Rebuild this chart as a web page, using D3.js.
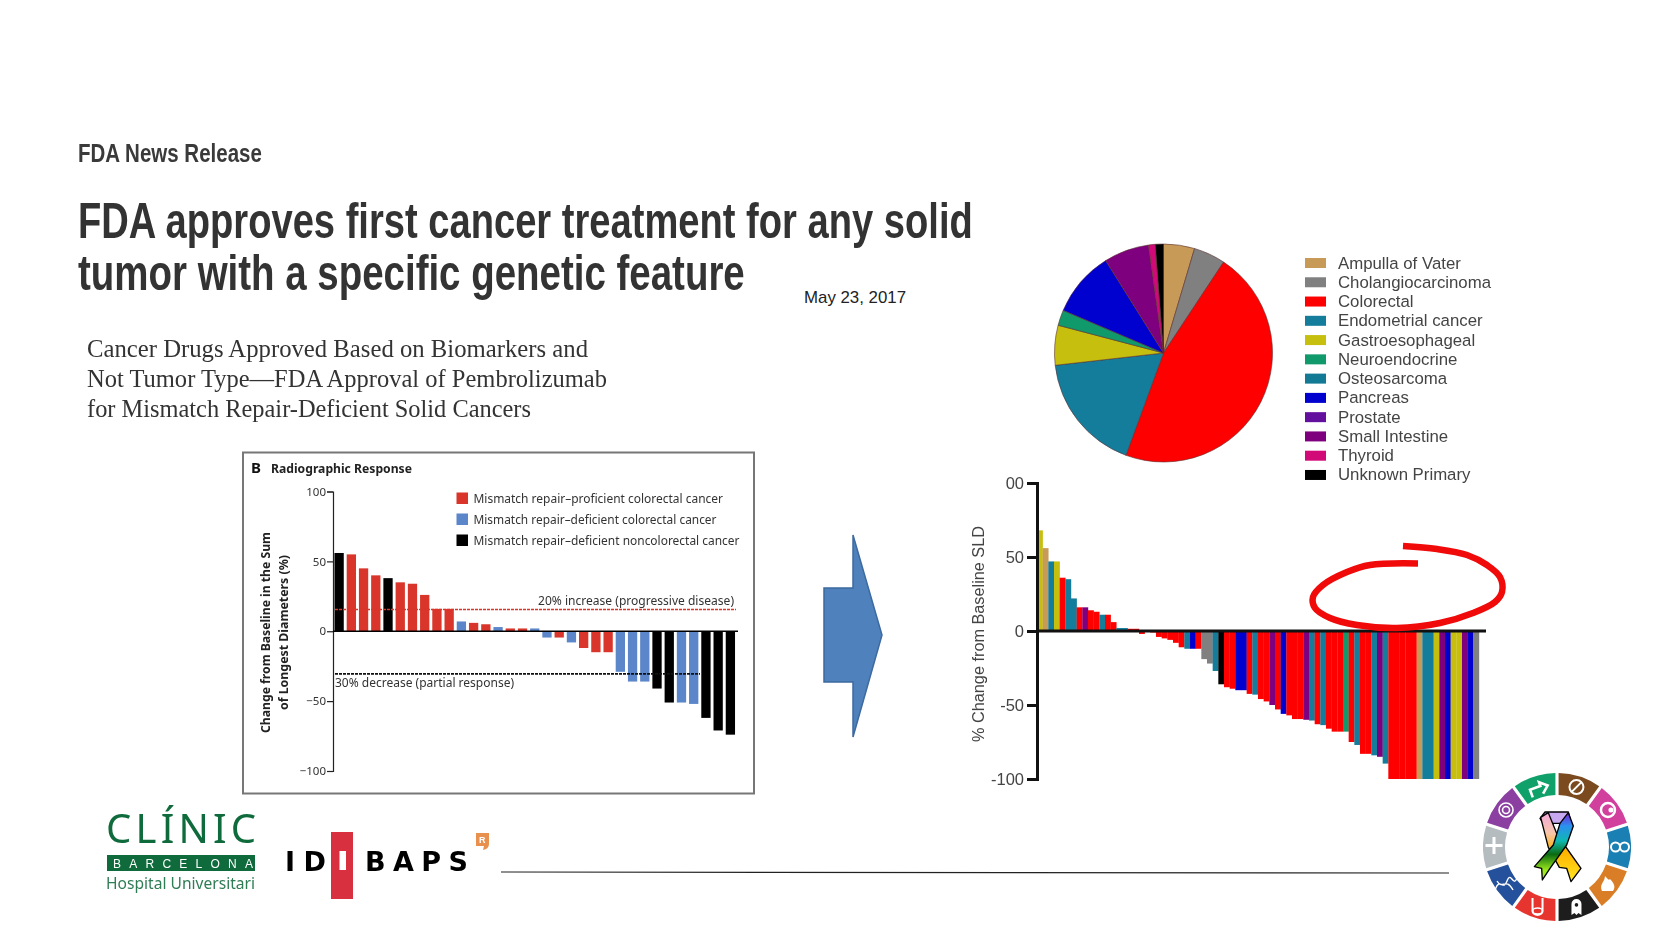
<!DOCTYPE html>
<html><head><meta charset="utf-8">
<script src="https://cdn.jsdelivr.net/npm/d3@7"></script>
<style>html,body{margin:0;padding:0;background:#fff}svg{display:block}text{font-family:"Liberation Sans",Arial,sans-serif}svg>*:not(.sharp):not(defs){filter:blur(.4px)}</style>
</head><body><svg id="c" width="1680" height="945"></svg>
<script>
// ---- data ----
const nejmValues=[56,55,45,40,38,35,34,26,16,16,7,6,5,3,2,2,2,-4.5,-4.5,-8,-12,-15,-15,-29,-36,-36,-41,-51,-51,-52,-62,-71,-74];
const nejmTypes="kpppkpppppbppbppbbpbpppbbbkkbbkkk".split("");
const nejmLegend=["Mismatch repair\u2013proficient colorectal cancer","Mismatch repair\u2013deficient colorectal cancer","Mismatch repair\u2013deficient noncolorectal cancer"];
const nejmTicks=[100,50,0,-50,-100];
const progressiveLine=15.5, partialLine=-30.5;
const pieNames=["Ampulla of Vater","Cholangiocarcinoma","Colorectal","Endometrial cancer","Gastroesophageal","Neuroendocrine","Osteosarcoma","Pancreas","Prostate","Small Intestine","Thyroid","Unknown Primary"];
const pieValues=[4.6,4.7,46.3,17.6,5.9,2.3,0,9.7,0,6.7,1.0,1.2];
const pieColors=["#c89a58","#808080","#ff0000","#137d9b","#c6bf0e","#10996a","#137a96","#0000cf","#64109f","#7f007f","#d20a78","#000000"];
const sldValues=[68,56,47,47,36,35,22,16,16,14,13,11,11,6,2,2,1.5,1.5,-2,-0.5,-1,-4,-5,-6,-8,-11,-12,-12,-12,-19,-22,-27,-36,-38,-39,-40,-40,-42.5,-43,-46,-47.6,-50,-53,-56,-57,-59.5,-59.5,-60,-60.5,-63,-63.6,-66,-68,-68,-68,-75,-77,-83,-83,-84,-85,-89.6,-100,-100,-100,-100,-100,-100,-100,-100,-100,-100,-100,-100,-100,-100,-100,-100];
const sldTypes=[4,0,3,4,2,3,3,2,9,2,2,3,2,2,3,3,2,2,2,2,2,2,2,2,2,2,3,7,2,1,1,3,11,2,2,7,7,2,3,2,2,9,2,7,2,2,2,9,3,2,3,2,2,2,5,2,3,2,2,3,9,3,2,2,2,2,2,0,3,3,4,9,7,4,4,9,7,1];
const sldTicks=[100,50,0,-50,-100];
const sldTickLabels={"100":"00","50":"50","0":"0","-50":"-50","-100":"-100"};
const ringColors=["#7b4a1e","#d1409c","#1a7fb2","#d97e26","#1d1d1d","#e6352f","#24509c","#b5bcc0","#8a3fa1","#10a069"];
const ringShare=ringColors.map(()=>1);

const svg=d3.select("#c");
const txt=(s,x,y,size,o={})=>{const t=svg.append("text").attr("x",x).attr("y",y).attr("font-size",size).attr("fill",o.fill||"#333").text(s);
 if(o.family)t.style("font-family",o.family);if(o.bold)t.attr("font-weight",o.bold===true?"bold":o.bold);if(o.w)t.attr("textLength",o.w).attr("lengthAdjust",o.adj||"spacingAndGlyphs");if(o.anchor)t.attr("text-anchor",o.anchor);if(o.rot)t.attr("transform",`rotate(-90 ${x} ${y})`);
 if(o.fit){const n=t.node().getComputedTextLength();t.attr("x",0).attr("y",0).attr("transform",`translate(${x},${y}) scale(${o.fit/n},1)`);}
 return t;};

// ---- headings ----
txt("FDA News Release",78,161.5,25,{bold:true,fit:184,fill:"#3a3a3a"});
txt("FDA approves first cancer treatment for any solid",78,237.5,50,{bold:true,fit:895,fill:"#333"});
txt("tumor with a specific genetic feature",78,290,50,{bold:true,fit:667,fill:"#333"});
txt("May 23, 2017",804,303,17,{w:102,fill:"#222"}).classed("sharp",true);
const serif='"Liberation Serif",serif';
txt("Cancer Drugs Approved Based on Biomarkers and",87,357,26,{family:serif,w:501,fill:"#333"});
txt("Not Tumor Type\u2014FDA Approval of Pembrolizumab",87,387,26,{family:serif,w:520,fill:"#333"});
txt("for Mismatch Repair-Deficient Solid Cancers",87,417,26,{family:serif,w:444,fill:"#333"});

// ---- NEJM panel ----
svg.append("rect").attr("x",243).attr("y",452.5).attr("width",511).attr("height",341).attr("fill","#fff").attr("stroke","#777").attr("stroke-width",2);
const sans='"Noto Sans",sans-serif';
txt("B",251,473,15,{family:sans,bold:true,fill:"#111"});
txt("Radiographic Response",271,473,13,{family:sans,bold:true,w:141,fill:"#222"});
const nx=d3.scaleBand().domain(d3.range(nejmValues.length)).range([333,736.5]).paddingInner(.24).paddingOuter(.12);
const ny=d3.scaleLinear().domain([-100,100]).range([771,491.5]);
const nColor={p:"#d9352a",b:"#5b86c9",k:"#000"};
svg.append("g").selectAll("rect").data(nejmValues).join("rect")
 .attr("x",(d,i)=>nx(i)).attr("width",nx.bandwidth()).attr("y",d=>Math.min(ny(d),ny(0))).attr("height",d=>Math.abs(ny(d)-ny(0)))
 .attr("fill",(d,i)=>nColor[nejmTypes[i]]);
const nAxis=svg.append("g").attr("transform","translate(333,0)").call(d3.axisLeft(ny).tickValues(nejmTicks).tickSize(6).tickFormat(d=>d<0?"\u2212"+(-d):d));
nAxis.selectAll("text").style("font-family",sans).attr("font-size",11.5).attr("fill","#333").attr("x",-7);
nAxis.selectAll("line,path").attr("stroke","#222").attr("stroke-width",1.2);
svg.append("line").attr("x1",333).attr("x2",738).attr("y1",ny(0)).attr("y2",ny(0)).attr("stroke","#000").attr("stroke-width",1.5);
svg.append("line").attr("x1",335).attr("x2",736).attr("y1",ny(progressiveLine)).attr("y2",ny(progressiveLine)).attr("stroke","#d9352a").attr("stroke-width",1.5).attr("stroke-dasharray","3 1");
svg.append("line").attr("x1",335).attr("x2",700).attr("y1",ny(partialLine)).attr("y2",ny(partialLine)).attr("stroke","#111").attr("stroke-width",1.6).attr("stroke-dasharray","3 1");
txt("20% increase (progressive disease)",538,605,12,{family:sans,w:196,fill:"#333"});
txt("30% decrease (partial response)",335,687,12,{family:sans,w:179,fill:"#333"});
nejmLegend.forEach((s,i)=>{const y=[498.5,519.5,540.5][i];
 svg.append("rect").attr("x",456.5).attr("y",y-6).attr("width",11.5).attr("height",11.5).attr("fill",[nColor.p,nColor.b,nColor.k][i]);
 txt(s,473.5,y+4,12,{family:sans,w:[249.5,243,266][i],fill:"#333"});});
txt("Change from Baseline in the Sum",270,733,12.5,{family:sans,bold:true,w:201,fill:"#222",rot:true});
txt("of Longest Diameters (%)",288,710,12.5,{family:sans,bold:true,w:155,fill:"#222",rot:true});

// ---- arrow ----
const arrowPts=[[824,588],[853,588],[853,535],[882,635],[853,737],[853,682],[824,682]];
svg.append("polygon").attr("points",arrowPts.join(" ")).attr("fill","#4f81bd").attr("stroke","#3d6a9f").attr("stroke-width",1.5);

// ---- pie ----
const pie=d3.pie().sort(null).value(d=>d)(pieValues);
const arc=d3.arc().innerRadius(0).outerRadius(109);
svg.append("g").attr("transform","translate(1163.5,353)").selectAll("path").data(pie).join("path")
 .attr("d",arc).attr("fill",(d,i)=>pieColors[i]).attr("stroke",d=>d.value?"#5a3030":"none").attr("stroke-width",.6);
pieNames.forEach((s,i)=>{const y=263+19.27*i;
 svg.append("rect").attr("x",1305).attr("y",y-5).attr("width",21).attr("height",10).attr("fill",pieColors[i]);
 txt(s,1338,y+5.5,16.8,{fill:"#444"});});

// ---- SLD waterfall ----
const sx=d3.scaleBand().domain(d3.range(sldValues.length)).range([1037,1479]);
const sy=d3.scaleLinear().domain([-100,100]).range([779,483]);
svg.append("g").selectAll("rect").data(sldValues).join("rect")
 .attr("x",(d,i)=>sx(i)).attr("width",sx.bandwidth()+.2).attr("y",d=>Math.min(sy(d),sy(0))).attr("height",d=>Math.abs(sy(d)-sy(0)))
 .attr("fill",(d,i)=>pieColors[sldTypes[i]]);
const sAxis=svg.append("g").attr("transform","translate(1037,0)").call(d3.axisLeft(sy).tickValues(sldTicks).tickSize(10).tickPadding(3).tickFormat(d=>sldTickLabels[d]));
sAxis.selectAll("text").attr("font-size",16.5).attr("fill","#444");
sAxis.selectAll("line,path").attr("stroke","#111").attr("stroke-width",3);
svg.append("line").attr("x1",1037).attr("x2",1486).attr("y1",sy(0)).attr("y2",sy(0)).attr("stroke","#111").attr("stroke-width",3);
txt("% Change from Baseline SLD",984,742,16,{w:216,fill:"#444",rot:true});

// ---- red hand-drawn ellipse ----
const stroke=[[1403,546],[1437,549],[1467,555],[1487,565],[1500,577],[1502,592],[1495,602],[1473,613],[1440,623],[1397,628],[1357,625],[1330,618],[1315,608],[1313,597],[1323,585],[1347,572],[1370,565],[1418,563.5]];
svg.append("path").attr("d",d3.line().curve(d3.curveCatmullRom)(stroke)).attr("fill","none").attr("stroke","#f00a0a").attr("stroke-width",6.5);

// ---- footer rule ----
svg.append("line").classed("sharp",true).attr("x1",501).attr("x2",1449).attr("y1",872).attr("y2",873).attr("stroke","#222").attr("stroke-width",1.2);

// ---- Clinic logo ----
const green="#0f6b3c";
txt("CL\u00cdNIC",106,843,40,{family:sans,fill:green,w:150,adj:"spacing"});
svg.append("rect").attr("x",107).attr("y",855).attr("width",148).attr("height",16).attr("fill",green);
txt("BARCELONA",113,868,12,{fill:"#fff",w:140,adj:"spacing"});
txt("Hospital Universitari",106,889,16.5,{family:sans,fill:"#2f7d55",w:149});

// ---- IDIBAPS logo ----
const heavy='"DejaVu Sans",sans-serif';
svg.append("rect").attr("x",331).attr("y",832).attr("width",22).attr("height",67).attr("fill","#d9303f");
svg.append("rect").attr("x",339.5).attr("y",851).attr("width",6.5).attr("height",19).attr("fill","#fff");
txt("ID",285,871,27,{family:heavy,bold:true,fill:"#000",w:41,adj:"spacing"});
txt("BAPS",365,871,27,{family:heavy,bold:true,fill:"#000",w:103,adj:"spacing"});
svg.append("path").attr("d","M476 833h13v11q0 5-6 6l1-4h-8z").attr("fill","#e8914f");
txt("R",479,843,9,{bold:true,fill:"#fff"});

// ---- ring ----
const ring=svg.append("g").attr("transform","translate(1557,847)");
const rArc=d3.arc().innerRadius(52).outerRadius(74).padAngle(.035);
const rData=d3.pie().sort(null).value(d=>d)(ringShare);
ring.selectAll("path").data(rData).join("path").attr("d",rArc).attr("fill",(d,i)=>ringColors[i]);
const icons=[
 '<circle r="7" fill="none" stroke="#fff" stroke-width="2"/><line x1="-5" y1="5" x2="5" y2="-5" stroke="#fff" stroke-width="2"/>',
 '<circle r="7" fill="none" stroke="#fff" stroke-width="2.5"/><circle cx="3" r="2.5" fill="#fff"/>',
 '<circle cx="-4.5" r="4.5" fill="none" stroke="#fff" stroke-width="2"/><circle cx="4.5" r="4.5" fill="none" stroke="#fff" stroke-width="2"/>',
 '<path d="M-6 7C-9 0-3-2-3-8 0-5 1-3 2-5 6-1 8 3 5 7Z" fill="#fff"/>',
 '<path d="M-5 8V-3A5 5 0 0 1 5-3V8L2 6 0 8-2 6Z" fill="#fff"/><circle cy="-2" r="1.8" fill="#1d1d1d"/>',
 '<path d="M-5-9V4A5 4 0 0 0 5 4V-9" fill="none" stroke="#fff" stroke-width="2"/><ellipse cy="4" rx="5" ry="3" fill="none" stroke="#fff" stroke-width="1.5"/>',
 '<path d="M-11 6C-6-8-3 8 1-3S7 4 11-6M-9-3C-4 6 0-7 7 6" fill="none" stroke="#fff" stroke-width="1.4"/>',
 '<path d="M-1.5-10h3v7h7v3h-7v7h-3v-7h-7v-3h7z" fill="#fff"/>',
 '<circle r="7" fill="none" stroke="#fff" stroke-width="1.6"/><circle r="3.5" fill="none" stroke="#fff" stroke-width="1.6"/>',
 '<path d="M-8 8V0H3V-4L10 2 3 8" transform="rotate(-20)" fill="none" stroke="#fff" stroke-width="2.6"/>'];
ring.selectAll("g").data(rData).join("g").attr("transform",d=>{const c=rArc.centroid(d);return `translate(${c[0]},${c[1]})`;}).html((d,i)=>icons[i]);

// ---- ribbon ----
const defs=svg.append("defs");
const grad=(id,stops)=>{const g=defs.append("linearGradient").attr("id",id).attr("x1",0).attr("y1",0).attr("x2",0).attr("y2",1);stops.forEach(s=>g.append("stop").attr("offset",s[0]).attr("stop-color",s[1]));};
grad("rA",[[0,"#f4a8dc"],[.3,"#f7c6a8"],[.55,"#ffb000"],[1,"#ffe820"]]);
grad("rB",[[0,"#7a20d8"],[.2,"#2a90f0"],[.42,"#10b8b0"],[.62,"#0a6a10"],[.85,"#9ae81c"],[1,"#b0f020"]]);
const rib=svg.append("g").attr("transform","translate(1470,760) scale(.3333)").attr("stroke","#000").attr("stroke-width",4).attr("stroke-linejoin","round");
rib.append("path").attr("d","M225 156L295 156 305 195 270 190 250 190 235 215 210 175Z").attr("fill","#c8a8f0");
rib.append("path").attr("d","M212 172L235 158 262 225 333 325 303 365 290 325 268 322 235 262Z").attr("fill","url(#rA)");
rib.append("path").attr("d","M295 158L310 198 290 255 240 325 217 360 215 325 193 320 250 255 270 190Z").attr("fill","url(#rB)");
</script></body></html>
